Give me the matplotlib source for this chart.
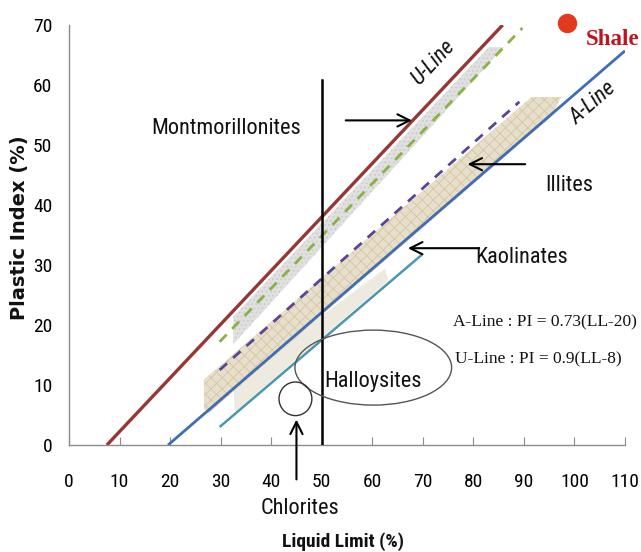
import matplotlib
matplotlib.use("Agg")
import matplotlib.pyplot as plt
from matplotlib import font_manager
from matplotlib.patches import Polygon, Ellipse

def pick(fams):
    for f in fams:
        try:
            font_manager.findfont(f, fallback_to_default=False)
            return f
        except Exception:
            pass
    return "DejaVu Sans"

SANS = pick(["Liberation Sans Narrow", "Roboto Condensed", "Lato", "Liberation Sans"])
SERIF = pick(["Liberation Serif", "DejaVu Serif"])
plt.rcParams['hatch.linewidth'] = 0.6

# ---- data ----
x_ticks = [0, 10, 20, 30, 40, 50, 60, 70, 80, 90, 100, 110]
y_ticks = [0, 10, 20, 30, 40, 50, 60, 70]

u_line_ll = [7.5, 85.8]
u_line_pi = [0, 70]
a_line_ll = [19.6, 110]
a_line_pi = [0, 65.7]
green_ll = [29.8, 89.7]
green_pi = [17.2, 69.5]
purple_ll = [29.8, 89.1]
purple_pi = [12.5, 57.2]
teal_ll = [29.8, 69.8]
teal_pi = [3.0, 31.7]
vline_ll = [50, 50]
vline_pi = [0, 60.8]

mont_band_ll = [32.5, 32.5, 83.0, 86.0]
mont_band_pi = [16.8, 21.4, 66.3, 66.3]
illite_band_ll = [26.7, 26.7, 91.5, 97.4, 95.5, 27.6]
illite_band_pi = [6.0, 10.9, 58.0, 58.0, 54.8, 5.3]
kaol_band_ll = [32.8, 32.5, 62.5, 63.2]
kaol_band_pi = [5.5, 10.5, 29.4, 27.4]

halloy_center = (60.2, 12.9)
halloy_size = (31.0, 12.5)
chlor_center = (44.8, 7.7)
chlor_size = (6.5, 5.6)

shale_ll, shale_pi = 98.5, 70.4

fig = plt.figure(figsize=(6.41, 5.52), dpi=100)
ax = fig.add_axes([69/641, 1-445/552, 556/641, 420/552])
ax.set_xlim(0, 110)
ax.set_ylim(0, 70)

# bands
ax.add_patch(Polygon(list(zip(mont_band_ll, mont_band_pi)), closed=True,
                     facecolor='#E0E0E0', edgecolor='#C8C8C8', hatch='....', lw=0, zorder=1))
ax.add_patch(Polygon(list(zip(kaol_band_ll, kaol_band_pi)), closed=True,
                     facecolor='#EEEAE0', edgecolor='none', lw=0, zorder=1))
ax.add_patch(Polygon(list(zip(illite_band_ll, illite_band_pi)), closed=True,
                     facecolor='#E8DFCB', edgecolor='#D3C5A6', hatch='xxx', lw=0, zorder=1.5))

# lines
ax.plot(u_line_ll, u_line_pi, color='#953735', lw=2.4, zorder=3, solid_capstyle='butt')
ax.plot(a_line_ll, a_line_pi, color='#3E6DB3', lw=2.0, zorder=3, solid_capstyle='butt')
ax.plot(green_ll, green_pi, color='#8DB043', lw=2.0, ls=(0, (3.6, 2.9)), zorder=3)
ax.plot(purple_ll, purple_pi, color='#56459A', lw=2.0, ls=(0, (3.6, 2.9)), zorder=3)
ax.plot(teal_ll, teal_pi, color='#4A97B0', lw=1.8, zorder=3, solid_capstyle='butt')
ax.plot(vline_ll, vline_pi, color='black', lw=1.8, zorder=4)

# ellipses
ax.add_patch(Ellipse(halloy_center, halloy_size[0], halloy_size[1], facecolor='none',
                     edgecolor='#555555', lw=1.0, zorder=5))
ax.add_patch(Ellipse(chlor_center, chlor_size[0], chlor_size[1], facecolor='none',
                     edgecolor='#333333', lw=1.0, zorder=5))

# shale marker
ax.plot([shale_ll], [shale_pi], 'o', color='#E23A1C', ms=13, clip_on=False, zorder=6)
ax.text(102.3, 67.6, 'Shale', family=SERIF, fontweight='bold', color='#C0141C',
        fontsize=16.5, ha='left', va='center', clip_on=False)

# labels
lab = dict(family=SANS, fontsize=16, color='#111111')
ax.text(31.1, 52.8, 'Montmorillonites', ha='center', va='center', **lab)
ax.text(98.9, 43.3, 'Illites', ha='center', va='center', **lab)
ax.text(89.6, 31.3, 'Kaolinates', ha='center', va='center', **lab)
ax.text(60.2, 10.5, 'Halloysites', ha='center', va='center', **lab)
ax.text(45.7, -10.5, 'Chlorites', ha='center', va='center', clip_on=False, **lab)
ax.text(72.0, 63.7, 'U-Line', ha='center', va='center', rotation=47, style='italic', **lab)
ax.text(103.7, 57.0, 'A-Line', ha='center', va='center', rotation=41, style='italic', **lab)

ax.text(76.0, 20.5, 'A-Line : PI = 0.73(LL-20)', family=SERIF, fontsize=12.5,
        ha='left', va='center', color='#111111')
ax.text(76.4, 14.2, 'U-Line : PI = 0.9(LL-8)', family=SERIF, fontsize=12.5,
        ha='left', va='center', color='#111111')

# arrows
arr = dict(arrowstyle='->', lw=1.5, color='black', mutation_scale=22)
ax.annotate('', xy=(68.4, 54.1), xytext=(54.2, 54.1), arrowprops=arr, zorder=6)
ax.annotate('', xy=(78.3, 46.8), xytext=(90.8, 46.8), arrowprops=arr, zorder=6)
ax.annotate('', xy=(66.5, 32.8), xytext=(81.7, 32.8), arrowprops=arr, zorder=6)
ax.annotate('', xy=(45.0, 4.7), xytext=(45.0, -6.2), arrowprops=arr, zorder=6,
            annotation_clip=False)

# axes styling
for s in ['top', 'right']:
    ax.spines[s].set_visible(False)
ax.spines['left'].set_color('#8C8C8C')
ax.spines['bottom'].set_color('#8C8C8C')
ax.spines['left'].set_linewidth(1.0)
ax.spines['bottom'].set_linewidth(1.0)
ax.set_xticks(x_ticks)
ax.set_yticks(y_ticks)
ax.set_xticklabels([str(v) for v in x_ticks], family=SANS, fontsize=14)
ax.set_yticklabels([str(v) for v in y_ticks], family=SANS, fontsize=14)
ax.tick_params(axis='x', direction='in', length=6, color='#8C8C8C', pad=20)
ax.tick_params(axis='y', length=0, pad=12)

fig.text(20/641, 1-228/552, 'Plastic Index (%)', rotation=90, ha='center', va='center',
         family='DejaVu Sans', fontweight='bold', fontsize=14, color='#111111')
fig.text(343/641, 1-542/552, 'Liquid Limit (%)', ha='center', va='center',
         family=SANS, fontweight='bold', fontsize=14, color='#111111')

fig.savefig('out.png', dpi=100, facecolor='white')
